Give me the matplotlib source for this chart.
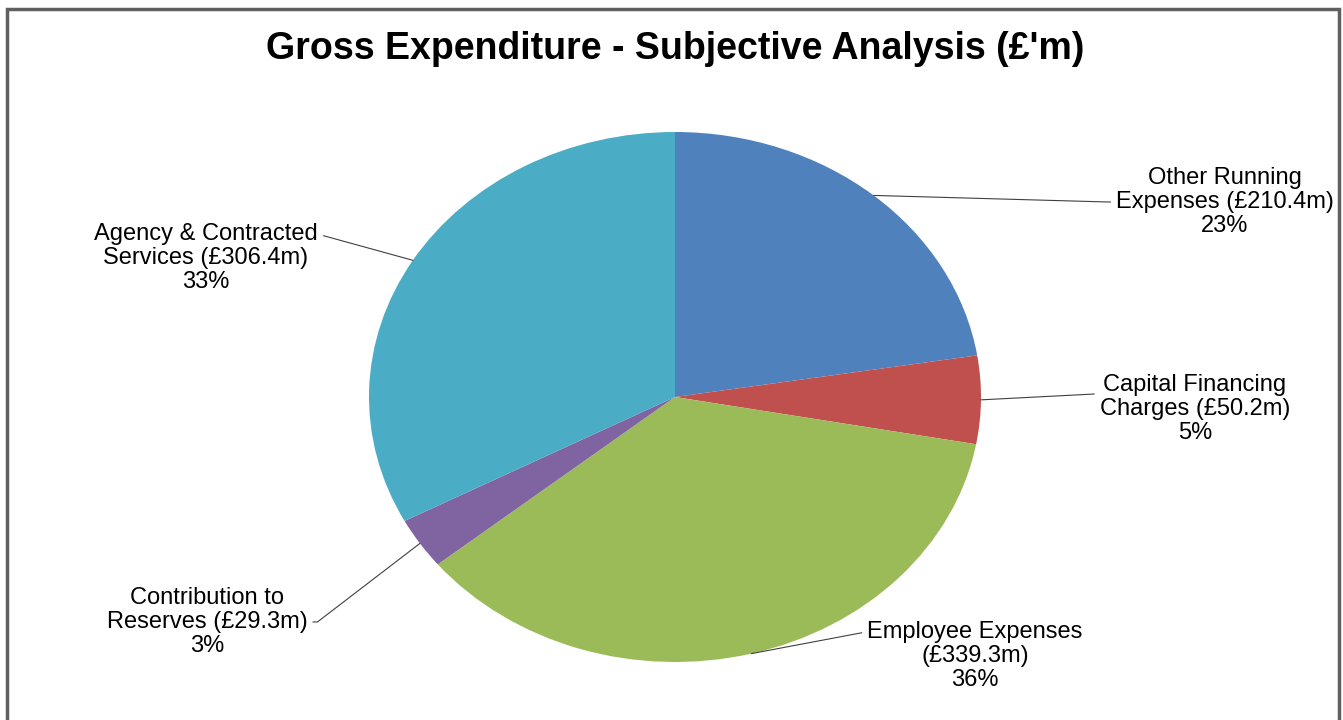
import numpy as np
import matplotlib
matplotlib.use('Agg')
import matplotlib.pyplot as plt
from matplotlib.patches import Rectangle

plt.rcParams['font.family'] = ['Liberation Sans', 'DejaVu Sans']

# data
categories = ['Other Running\nExpenses (£210.4m)', 'Capital Financing\nCharges (£50.2m)',
              'Employee Expenses\n(£339.3m)', 'Contribution to\nReserves (£29.3m)',
              'Agency & Contracted\nServices (£306.4m)']
values = [210.4, 50.2, 339.3, 29.3, 306.4]
percents = ['23%', '5%', '36%', '3%', '33%']
colors = ['#4F81BD', '#C0504D', '#9BBB59', '#8064A2', '#4BACC6']

W, H = 1343, 720
fig = plt.figure(figsize=(W / 100, H / 100), dpi=100)

# pie box in pixels: centre (675, 397), radii 306 x 265
cx, cy, rx, ry = 675, 397, 306, 265
ax = fig.add_axes([(cx - rx) / W, (H - cy - ry) / H, 2 * rx / W, 2 * ry / H])
wedges, _ = ax.pie(values, colors=colors, startangle=90, counterclock=False,
                   radius=1, wedgeprops=dict(linewidth=0))
ax.set_aspect('auto')
ax.set_xlim(-1, 1)
ax.set_ylim(-1, 1)
ax.axis('off')

# label centres in pixels, where the leader line meets the text, and elbow
label_px = [(1225, 202), (1195, 409), (975, 656), (207, 622), (206, 258)]
relpos = [(0.0, 0.5), (0.0, 0.72), (0.0, 0.85), (1.0, 0.5), (1.0, 0.82)]
arms = [(180, 8), (180, 0), (180, 0), (0, 10), (0, 6)]

for w, lab, pc, (px, py), rp, (ang, arm) in zip(wedges, categories, percents,
                                               label_px, relpos, arms):
    mid = np.deg2rad((w.theta1 + w.theta2) / 2)
    xy = (np.cos(mid), np.sin(mid))
    xt = (px - cx) / rx
    yt = (cy - py) / ry
    if arm:
        cs = 'arc,angleA=%d,angleB=0,armA=%d,armB=0,rad=0' % (ang, arm)
    else:
        cs = 'arc3,rad=0'
    ax.annotate(lab + '\n' + pc, xy=xy, xytext=(xt, yt), ha='center', va='center',
                fontsize=17, linespacing=1.1, annotation_clip=False,
                arrowprops=dict(arrowstyle='-', color='#404040', lw=0.8,
                                relpos=rp, shrinkA=2, shrinkB=0, connectionstyle=cs))

fig.text(675 / W, 1 - 49 / H, "Gross Expenditure - Subjective Analysis (£'m)",
         ha='center', va='center', fontsize=27, fontweight='bold')

# chart border
fig.patches.append(Rectangle((7 / W, -0.05), (1339 - 7) / W, 1.05 - 9 / H,
                             transform=fig.transFigure, fill=False,
                             edgecolor='#606060', linewidth=2.5))

fig.savefig('out.png', dpi=100)
